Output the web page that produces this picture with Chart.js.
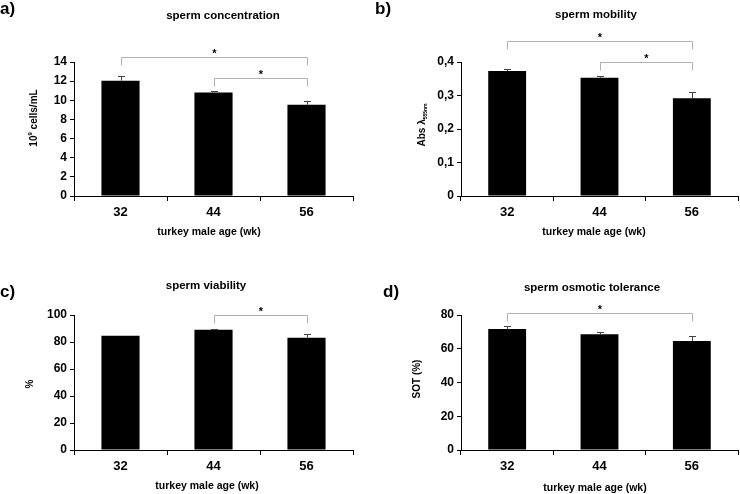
<!DOCTYPE html>
<html>
<head>
<meta charset="utf-8">
<script src="https://cdn.jsdelivr.net/npm/chart.js@4.4.1/dist/chart.umd.min.js"></script>
<style>
  body { margin: 0; background: #fff; }
  #wrap { position: relative; width: 740px; height: 494px; }
  canvas { position: absolute; }
</style>
</head>
<body>
<div id="wrap">
  <canvas id="cA" width="370" height="247" style="left:0;top:0"></canvas>
  <canvas id="cB" width="370" height="247" style="left:370px;top:0"></canvas>
  <canvas id="cC" width="370" height="247" style="left:0;top:247px"></canvas>
  <canvas id="cD" width="370" height="247" style="left:370px;top:247px"></canvas>
</div>
<script>
// data
var ages = ['32', '44', '56'];

var concMean = [12.05, 10.82, 9.54];
var concErr = [0.5, 0.14, 0.35];
var concTicks = ['0', '2', '4', '6', '8', '10', '12', '14'];
var concSig = [[0, 2], [1, 2]];

var mobMean = [0.373, 0.353, 0.292];
var mobErr = [0.005, 0.005, 0.017];
var mobTicks = ['0', '0,1', '0,2', '0,3', '0,4'];
var mobSig = [[0, 2], [1, 2]];

var viaMean = [84.7, 89.1, 83.2];
var viaErr = [0, 0.8, 2.5];
var viaTicks = ['0', '20', '40', '60', '80', '100'];
var viaSig = [[1, 2]];

var sotMean = [71.7, 68.6, 64.6];
var sotErr = [2.0, 1.1, 2.8];
var sotTicks = ['0', '20', '40', '60', '80'];
var sotSig = [[0, 2]];

var FONT = '"Liberation Sans", Arial, Helvetica, sans-serif';

var extras = {
    id: 'extras',
    afterDatasetsDraw: function(chart) {
        var o = chart.options.plugins.extras;
        var ctx = chart.ctx;
        var meta = chart.getDatasetMeta(0);
        var y = chart.scales.y;
        ctx.save();
        // error bars (upper half only)
        ctx.strokeStyle = '#444';
        ctx.lineWidth = 1;
        for (var i = 0; i < o.mean.length; i++) {
            if (!o.err[i]) continue;
            var x = Math.round(meta.data[i].x) + 0.5;
            var y0 = y.getPixelForValue(o.mean[i]);
            var y1 = Math.round(y.getPixelForValue(o.mean[i] + o.err[i])) + 0.5;
            ctx.beginPath();
            ctx.moveTo(x, y0);
            ctx.lineTo(x, y1);
            ctx.moveTo(x - 3.5, y1);
            ctx.lineTo(x + 3.5, y1);
            ctx.stroke();
        }
        // significance brackets
        for (var k = 0; k < o.sig.length; k++) {
            var xa = Math.round(meta.data[o.sig[k][0]].x) + 0.5;
            var xb = Math.round(meta.data[o.sig[k][1]].x) + 0.5;
            var ly = o.sigY[k] + 0.5;
            ctx.strokeStyle = '#b0b0b0';
            ctx.beginPath();
            ctx.moveTo(xa, ly + 8);
            ctx.lineTo(xa, ly);
            ctx.lineTo(xb, ly);
            ctx.lineTo(xb, ly + 8);
            ctx.stroke();
            ctx.fillStyle = '#000';
            ctx.font = 'bold 11px ' + FONT;
            ctx.textAlign = 'center';
            ctx.textBaseline = 'alphabetic';
            ctx.fillText('*', (xa + xb) / 2, ly - 1);
        }
        ctx.restore();
    },
    afterDraw: function(chart) {
        var o = chart.options.plugins.extras;
        var ctx = chart.ctx;
        ctx.save();
        ctx.fillStyle = '#000';
        ctx.textBaseline = 'middle';
        // panel letter
        ctx.font = 'bold 17px ' + FONT;
        ctx.textAlign = 'left';
        ctx.fillText(o.letter, o.letterPos[0], o.letterPos[1]);
        // title
        ctx.font = 'bold 11.5px ' + FONT;
        ctx.textAlign = 'center';
        ctx.fillText(o.title, o.titlePos[0], o.titlePos[1]);
        // x title
        ctx.font = 'bold 10.5px ' + FONT;
        ctx.fillText('turkey male age (wk)', o.xTitlePos[0], o.xTitlePos[1]);
        // y title, rotated, parts: [text, size, shift]
        ctx.translate(o.yTitlePos[0], o.yTitlePos[1]);
        ctx.rotate(-Math.PI / 2);
        var total = 0, p;
        for (p = 0; p < o.yTitle.length; p++) {
            ctx.font = 'bold ' + o.yTitle[p][1] + 'px ' + FONT;
            total += ctx.measureText(o.yTitle[p][0]).width;
        }
        var cx = -total / 2;
        ctx.textAlign = 'left';
        for (p = 0; p < o.yTitle.length; p++) {
            ctx.font = 'bold ' + o.yTitle[p][1] + 'px ' + FONT;
            ctx.fillText(o.yTitle[p][0], cx, o.yTitle[p][2]);
            cx += ctx.measureText(o.yTitle[p][0]).width;
        }
        ctx.restore();
    }
};

function makePanel(id, mean, err, ticks, step, sig, cfg) {
    var max = step * (ticks.length - 1);
    var yW = 40, xH = 30;
    new Chart(document.getElementById(id), {
        type: 'bar',
        data: {
            labels: ages,
            datasets: [{
                data: mean,
                backgroundColor: '#000',
                borderWidth: 0,
                categoryPercentage: 1.0,
                barPercentage: 0.41
            }]
        },
        options: {
            responsive: false,
            animation: false,
            events: [],
            layout: {
                padding: {
                    left: cfg.area[0] - yW,
                    top: cfg.area[1],
                    right: 370 - cfg.area[2],
                    bottom: 247 - cfg.area[3] - xH
                }
            },
            scales: {
                x: {
                    afterFit: function(s) { s.height = xH; },
                    grid: { offset: true, drawOnChartArea: false, drawTicks: true, tickLength: 5, color: '#000' },
                    border: { display: true, color: '#000', width: 1 },
                    ticks: { color: '#000', padding: 4, font: { family: FONT, size: 13, weight: 'bold' } }
                },
                y: {
                    min: 0,
                    max: max,
                    afterFit: function(s) { s.width = yW; },
                    grid: { drawOnChartArea: false, drawTicks: true, tickLength: 4, color: '#000' },
                    border: { display: true, color: '#000', width: 1 },
                    ticks: {
                        stepSize: step,
                        color: '#000',
                        padding: 3,
                        font: { family: FONT, size: 12, weight: 'bold' },
                        callback: function(v, i) { return ticks[i]; }
                    }
                }
            },
            plugins: {
                legend: { display: false },
                tooltip: { enabled: false },
                extras: {
                    mean: mean, err: err, sig: sig, sigY: cfg.sigY,
                    letter: cfg.letter, letterPos: cfg.letterPos,
                    title: cfg.title, titlePos: cfg.titlePos,
                    xTitlePos: cfg.xTitlePos,
                    yTitle: cfg.yTitle, yTitlePos: cfg.yTitlePos
                }
            }
        },
        plugins: [extras]
    });
}

makePanel('cA', concMean, concErr, concTicks, 2, concSig, {
    area: [74, 62, 353, 196],
    sigY: [57, 78],
    letter: 'a)', letterPos: [0, 9],
    title: 'sperm concentration', titlePos: [223, 16],
    xTitlePos: [209, 232],
    yTitle: [['10', 10, 0], ['9', 6, -4], [' cells/mL', 10, 0]], yTitlePos: [34, 118]
});
makePanel('cB', mobMean, mobErr, mobTicks, 0.1, mobSig, {
    area: [91, 62, 368, 196],
    sigY: [41, 62],
    letter: 'b)', letterPos: [5, 9],
    title: 'sperm mobility', titlePos: [226, 15],
    xTitlePos: [224, 232],
    yTitle: [['Abs \u03bb', 10, 0], ['555nm', 5, 4]], yTitlePos: [52, 125]
});
makePanel('cC', viaMean, viaErr, viaTicks, 20, viaSig, {
    area: [74, 68, 353, 203],
    sigY: [68],
    letter: 'c)', letterPos: [0, 45],
    title: 'sperm viability', titlePos: [206, 39],
    xTitlePos: [207, 239],
    yTitle: [['%', 10, 0]], yTitlePos: [30, 137]
});
makePanel('cD', sotMean, sotErr, sotTicks, 20, sotSig, {
    area: [91, 68, 368, 203],
    sigY: [66],
    letter: 'd)', letterPos: [13, 45],
    title: 'sperm osmotic tolerance', titlePos: [222, 41],
    xTitlePos: [225, 241],
    yTitle: [['SOT (%)', 10, 0]], yTitlePos: [47, 132]
});
</script>
</body>
</html>
